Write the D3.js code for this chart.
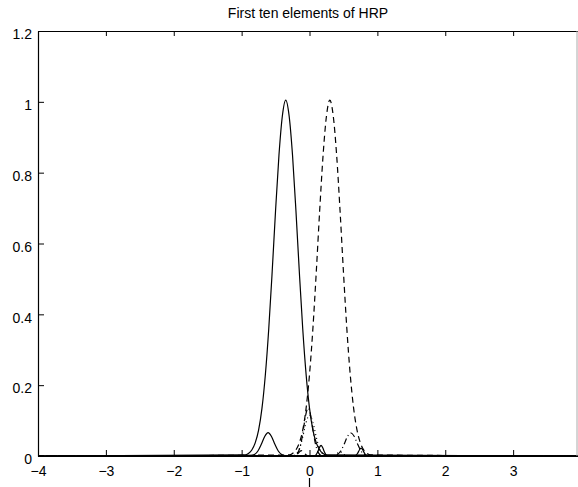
<!DOCTYPE html>
<html>
<head>
<meta charset="utf-8">
<script src="https://cdn.jsdelivr.net/npm/d3@7"></script>
<style>
  body { margin: 0; background: #fff; }
  text { font-family: "Liberation Sans", Arial, sans-serif; fill: #000; }
</style>
</head>
<body>
<div id="chart"></div>
<script>
// values, one array per element (x, y)
const elem1 = [[-4,0],[-0.95,0.003],[-0.9,0.007],[-0.85,0.017],[-0.8,0.037],[-0.75,0.073],[-0.7,0.135],[-0.65,0.23],[-0.6,0.36],[-0.55,0.52],[-0.5,0.693],[-0.45,0.849],[-0.4,0.96],[-0.35,1.005],[-0.3,0.96],[-0.25,0.849],[-0.2,0.693],[-0.15,0.52],[-0.1,0.36],[-0.05,0.23],[0,0.135],[0.05,0.073],[0.1,0.037],[0.15,0.017],[0.2,0.007],[0.25,0.003],[4,0]];
const elem2 = [[-4,0],[-0.3,0.003],[-0.25,0.007],[-0.2,0.017],[-0.15,0.037],[-0.1,0.073],[-0.05,0.135],[0,0.23],[0.05,0.36],[0.1,0.52],[0.15,0.693],[0.2,0.849],[0.25,0.96],[0.3,1.005],[0.35,0.96],[0.4,0.849],[0.45,0.693],[0.5,0.52],[0.55,0.36],[0.6,0.23],[0.65,0.135],[0.7,0.073],[0.75,0.037],[0.8,0.017],[0.85,0.007],[0.9,0.003],[4,0]];
const elem3 = [[-4,0],[-0.86,0.001],[-0.81,0.004],[-0.76,0.014],[-0.71,0.033],[-0.66,0.055],[-0.61,0.066],[-0.56,0.055],[-0.51,0.033],[-0.46,0.014],[-0.41,0.004],[-0.36,0.001],[4,0]];
const elem4 = [[-4,0],[0.36,0.001],[0.41,0.004],[0.46,0.014],[0.51,0.033],[0.56,0.055],[0.61,0.065],[0.66,0.055],[0.71,0.033],[0.76,0.014],[0.81,0.004],[0.86,0.001],[4,0]];
const elem5 = [[-4,0],[-0.22,0.001],[-0.17,0.0095],[-0.12,0.041],[-0.095,0.069],[-0.07,0.1],[-0.045,0.125],[-0.02,0.135],[0.005,0.125],[0.03,0.1],[0.055,0.069],[0.08,0.041],[0.13,0.0095],[0.18,0.001],[4,0]];
const elem6 = [[-4,0],[-0.25,0.001],[-0.2,0.005],[-0.15,0.02],[-0.1,0.053],[-0.05,0.095],[0,0.115],[0.05,0.095],[0.1,0.053],[0.15,0.02],[0.2,0.005],[0.25,0.001],[4,0]];
const elem7 = [[-4,0],[0.07,0.001],[0.095,0.003],[0.12,0.011],[0.145,0.023],[0.17,0.03],[0.195,0.023],[0.22,0.011],[0.245,0.003],[0.27,0.001],[4,0]];
const elem8 = [[-4,0],[0.66,0.001],[0.685,0.002],[0.71,0.008],[0.735,0.017],[0.76,0.022],[0.785,0.017],[0.81,0.008],[0.835,0.002],[0.86,0.001],[4,0]];
const elem9 = [[-4,0],[-0.24,0],[-0.21,0.001],[-0.18,0.005],[-0.15,0.011],[-0.12,0.015],[-0.09,0.011],[-0.06,0.005],[-0.03,0.001],[0,0],[4,0]];
const elem10 = [[-4,0],[0.33,0],[0.36,0.001],[0.39,0.004],[0.42,0.009],[0.45,0.012],[0.48,0.009],[0.51,0.004],[0.54,0.001],[0.57,0],[4,0]];

const xTicks = [-4, -3, -2, -1, 0, 1, 2, 3];
const yTicks = [0, 0.2, 0.4, 0.6, 0.8, 1, 1.2];
const titleText = "First ten elements of HRP";

// line styles (MATLAB cycle, all black)
const dashes = [null, "6,4", null, "6,3,1,3", "6,3,1,3", "1,3", null, null, "6,4", "1,3"];
const series = [elem1, elem2, elem3, elem4, elem5, elem6, elem7, elem8, elem9, elem10];

const W = 578, H = 487;
const mLeft = 38, mRight = 581, mTop = 31, mBottom = 456;

const svg = d3.select("#chart").append("svg")
  .attr("width", W)
  .attr("height", H);

const x = d3.scaleLinear().domain([-4, 4]).range([mLeft, mRight]);
const y = d3.scaleLinear().domain([0, 1.2]).range([mBottom, mTop]);

const line = d3.line()
  .x(d => x(d[0]))
  .y(d => y(d[1]))
  .curve(d3.curveMonotoneX);

// curves
svg.append("g")
  .selectAll("path")
  .data(series)
  .join("path")
  .attr("fill", "none")
  .attr("stroke", "#000")
  .attr("stroke-width", 1.2)
  .attr("stroke-dasharray", (d, i) => dashes[i])
  .attr("d", line);

// axes, ticks inside like matlab
svg.append("g")
  .attr("transform", `translate(0,${mBottom})`)
  .call(d3.axisBottom(x).tickValues(xTicks).tickSizeInner(-6).tickSizeOuter(0).tickPadding(10)
    .tickFormat(d => d < 0 ? "\u2212" + Math.abs(d) : d))
  .call(g => g.select(".domain").attr("stroke-width", 1.2))
  .call(g => g.selectAll("text").attr("font-size", 14).attr("font-family", "Liberation Sans, Arial, sans-serif"));

svg.append("g")
  .attr("transform", `translate(${mLeft},0)`)
  .call(d3.axisLeft(y).tickValues(yTicks).tickSizeInner(-6).tickSizeOuter(0).tickPadding(6)
    .tickFormat(d => d))
  .call(g => g.select(".domain").attr("stroke-width", 1.2))
  .call(g => g.selectAll("text").attr("font-size", 14).attr("dy", "0.55em")
    .attr("font-family", "Liberation Sans, Arial, sans-serif"));

// top edge with ticks
svg.append("g")
  .attr("transform", `translate(0,${mTop})`)
  .call(d3.axisTop(x).tickValues(xTicks).tickSizeInner(-5).tickSizeOuter(0).tickFormat(""))
  .call(g => g.select(".domain").attr("stroke-width", 1.2));

// right edge (scan shows it faint, just inside the window)
svg.append("line")
  .attr("x1", W - 1).attr("x2", W - 1)
  .attr("y1", mTop).attr("y2", mBottom)
  .attr("stroke", "#aaa");

svg.append("text")
  .attr("x", (mLeft + W) / 2)
  .attr("y", 18)
  .attr("text-anchor", "middle")
  .attr("font-size", 14)
  .text(titleText);

// small mark under the 0 label (top of a cut-off x label)
svg.append("line")
  .attr("x1", x(0)).attr("x2", x(0))
  .attr("y1", 478).attr("y2", 487)
  .attr("stroke", "#000")
  .attr("stroke-width", 1.2);
</script>
</body>
</html>
